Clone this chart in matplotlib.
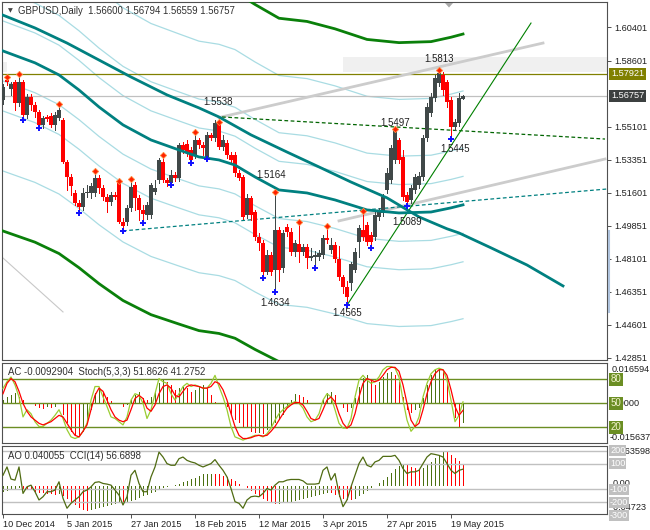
import matplotlib
matplotlib.use('Agg')
import matplotlib.pyplot as plt
import numpy as np
from matplotlib.lines import Line2D
from matplotlib.patches import Rectangle, Polygon

plt.rcParams['font.family'] = ['Liberation Sans', 'DejaVu Sans']

# ---------------- data ----------------
opens = [1.5653,1.5759,1.5711,1.5748,1.5637,1.5748,1.5574,1.5669,1.5627,1.5589,
         1.5521,1.5563,1.5568,1.5521,1.5558,1.5547,1.5324,1.5245,1.5160,1.5107,
         1.5086,1.5160,1.5160,1.5160,1.5240,1.5187,1.5139,1.5113,1.5148,1.5219,
         1.5007,1.5007,1.5081,1.5203,1.5134,1.5070,1.5044,1.5044,1.5165,1.5229,
         1.5324,1.5229,1.5213,1.5255,1.5240,1.5415,1.5420,1.5388,1.5362,1.5441,
         1.5415,1.5351,1.5468,1.5452,1.5531,1.5404,1.5425,1.5362,1.5362,1.5266,
         1.5245,1.5044,1.5134,1.5060,1.4927,1.4895,1.4742,1.4832,1.4752,1.4964,
         1.4763,1.4980,1.4954,1.4847,1.4890,1.4847,1.4874,1.4816,1.4821,1.4821,
         1.4832,1.4922,1.4858,1.4885,1.4810,1.4715,1.4662,1.4683,1.4752,1.4901,
         1.4964,1.4991,1.4938,1.4927,1.5033,1.5054,1.5176,1.5229,1.5335,1.5441,
         1.5351,1.5148,1.5123,1.5176,1.5203,1.5245,1.5452,1.5584,1.5664,1.5743,
         1.5786,1.5748,1.5653,1.5510,1.5531,1.56600]
highs = [1.5738,1.5775,1.5748,1.5759,1.5792,1.5759,1.5685,1.5685,1.5642,1.5600,
         1.5568,1.5574,1.5584,1.5589,1.5632,1.5558,1.5335,1.5261,1.5176,1.5123,
         1.5187,1.5203,1.5213,1.5277,1.5255,1.5203,1.5155,1.5165,1.5165,1.5224,
         1.5028,1.5097,1.5234,1.5219,1.5148,1.5097,1.5113,1.5213,1.5229,1.5346,
         1.5362,1.5240,1.5282,1.5271,1.5425,1.5430,1.5441,1.5404,1.5483,1.5452,
         1.5430,1.5483,1.5478,1.5547,1.5538,1.5468,1.5441,1.5377,1.5377,1.5282,
         1.5255,1.5155,1.5144,1.5070,1.4948,1.4911,1.4858,1.4847,1.5164,1.4980,
         1.4964,1.4996,1.4975,1.4911,1.5007,1.4890,1.4890,1.4869,1.4853,1.4858,
         1.4938,1.4985,1.4922,1.4901,1.4879,1.4726,1.4694,1.4794,1.4869,1.4991,
         1.5065,1.5007,1.4954,1.5060,1.5081,1.5155,1.5293,1.5415,1.5497,1.5452,
         1.5388,1.5165,1.5203,1.5261,1.5271,1.5468,1.5637,1.5690,1.5786,1.5813,
         1.5801,1.5759,1.5669,1.5552,1.5690,1.56794]
lows = [1.5632,1.5733,1.5680,1.5600,1.5621,1.5547,1.5558,1.5600,1.5563,1.5505,
        1.5505,1.5542,1.5510,1.5494,1.5547,1.5319,1.5176,1.5148,1.5097,1.5054,
        1.5070,1.5139,1.5134,1.5144,1.5160,1.5123,1.5060,1.5097,1.5128,1.5001,
        1.4959,1.4991,1.5065,1.5070,1.5017,1.5001,1.5022,1.5028,1.5155,1.5213,
        1.5219,1.5197,1.5203,1.5224,1.5224,1.5372,1.5356,1.5319,1.5346,1.5399,
        1.5362,1.5340,1.5441,1.5436,1.5393,1.5388,1.5346,1.5319,1.5250,1.5229,
        1.5022,1.5028,1.5017,1.4911,1.4858,1.4710,1.4731,1.4726,1.4634,1.4694,
        1.4742,1.4932,1.4832,1.4826,1.4794,1.4832,1.4763,1.4805,1.4763,1.4805,
        1.4816,1.4895,1.4842,1.4794,1.4699,1.4630,1.4565,1.4646,1.4742,1.4821,
        1.4911,1.4885,1.4869,1.4911,1.5017,1.5038,1.5160,1.5213,1.5319,1.5319,
        1.5123,1.5089,1.5107,1.5160,1.5187,1.5229,1.5436,1.5568,1.5648,1.5727,
        1.5680,1.5616,1.5445,1.5494,1.5515,1.56559]
closes = [1.5722,1.5748,1.5738,1.5637,1.5748,1.5574,1.5669,1.5627,1.5589,1.5521,
          1.5558,1.5552,1.5521,1.5574,1.5600,1.5324,1.5245,1.5197,1.5107,1.5086,
          1.5160,1.5165,1.5197,1.5240,1.5187,1.5139,1.5113,1.5148,1.5139,1.5007,
          1.4985,1.5081,1.5192,1.5134,1.5070,1.5049,1.5097,1.5203,1.5187,1.5335,
          1.5229,1.5213,1.5255,1.5240,1.5415,1.5388,1.5372,1.5335,1.5441,1.5415,
          1.5399,1.5468,1.5452,1.5531,1.5404,1.5441,1.5362,1.5335,1.5266,1.5240,
          1.5033,1.5134,1.5044,1.4927,1.4895,1.4742,1.4832,1.4742,1.4964,1.4752,
          1.4948,1.4954,1.4847,1.4895,1.4847,1.4874,1.4816,1.4826,1.4832,1.4842,
          1.4922,1.4911,1.4885,1.4810,1.4715,1.4662,1.4609,1.4784,1.4847,1.4975,
          1.4927,1.4901,1.4901,1.5044,1.5060,1.5139,1.5266,1.5399,1.5494,1.5335,
          1.5139,1.5113,1.5187,1.5245,1.5250,1.5452,1.5616,1.5669,1.5770,1.5796,
          1.5706,1.5642,1.5510,1.5536,1.5664,1.56757]

frac_up = [1, 4, 14, 23, 29, 32, 40, 48, 54, 68, 74, 81, 90, 98, 109]
frac_dn = [5, 9, 19, 30, 35, 42, 47, 51, 65, 68, 78, 86, 92, 101, 112]

peak_text = ['1.5538', '1.5164', '1.4634', '1.4565', '1.5497', '1.5089', '1.5813', '1.5445']
peak_idx = [54, 68, 68, 86, 98, 101, 109, 112]
peak_val = [1.5538, 1.5164, 1.4634, 1.4565, 1.5497, 1.5089, 1.5813, 1.5445]

# moving average (centre of envelopes), read at knots
ma_idx = [0, 8, 14, 19, 24, 30, 37, 44, 49, 54, 58, 63, 69, 76, 83, 91, 99, 107, 112, 115]
ma_val = [1.5913, 1.5850, 1.5786, 1.5706, 1.5616, 1.5521, 1.5441, 1.5388, 1.5351, 1.5335,
          1.5308, 1.5245, 1.5176, 1.5160, 1.5123, 1.5070, 1.5054, 1.5059, 1.5081, 1.5097]
env_cyan_pct = [1, 2, 4]
env_green_pct = [6]
# shifted long moving average, read at knots
sma_idx = [0, 8, 16, 24, 32, 41, 49, 54, 62, 71, 79, 87, 96, 104, 111, 114, 122, 131, 140]
sma_val = [1.6103, 1.6035, 1.5955, 1.5865, 1.5775, 1.5680, 1.5611, 1.5563, 1.5468, 1.5377,
           1.5298, 1.5218, 1.5134, 1.5033, 1.4970, 1.4948, 1.4869, 1.4778, 1.4667]

level_olive = 1.57921
bid = 1.56757
price_ticks = [1.60401, 1.58601, 1.55101, 1.53351, 1.51601, 1.49851, 1.48101, 1.46351, 1.44601, 1.42851]

# objects: (x0, x1), (y0, y1)
gray_tl1 = ([54, 135], [1.5560, 1.5955])
gray_tl2 = ([84, 150.5], [1.5012, 1.5340])
gray_tl3 = ([0, 15], [1.4815, 1.4529])
dash_green = ([54.75, 150.5], [1.5563, 1.5446])
dash_teal = ([30, 151], [1.4959, 1.5181])
green_tl = ([86, 132], [1.4565, 1.6061])
zone1 = ([85, 151], [1.5803, 1.5883])
zone2 = ([-0.25, 1], [1.5801, 1.5855])

stoch_k = [68.7,77,83,73,58,33,42,37,27,21,
           21,25,29,35,42,31,17,8,6,8,
           15,25,54,71,71,58,46,33,31,27,
           23,33,54,62,60,50,31,42,62,81,
           77,75,62,54,62,71,75,71,73,71,
           69,69,75,85,71,58,42,21,8,6,
           4,6,8,10,10,8,12,19,29,37,
           42,46,50,52,50,44,33,27,29,37,
           54,62,58,42,25,19,19,31,58,79,
           85,79,75,77,83,92,96,96,94,83,
           54,29,15,21,33,58,75,87,92,94,
           92,79,54,27,35,51.8626]
stoch_d = [62,75,81,77,65,50,40,33,29,25,
           23,25,27,31,35,33,25,17,10,8,
           15,23,42,60,69,65,54,42,33,29,
           27,29,42,56,60,56,44,40,48,62,
           71,73,69,60,58,65,71,73,72,71,
           69,69,71,77,75,67,54,37,21,10,
           6,6,7,9,10,9,10,15,21,29,
           37,44,48,51,51,48,40,31,29,31,
           42,54,58,52,37,25,19,23,37,58,
           75,81,79,77,79,85,92,95,95,90,
           73,50,29,21,25,42,62,77,87,92,
           92,85,67,46,35,41.2752]
ac = [0.0016,0.0032,0.0039,0.0047,0.0032,0.0016,0.0003,-0.0003,-0.0013,-0.0024,
      -0.0025,-0.0016,-0.0024,-0.0016,-0.0003,-0.0055,-0.0095,-0.0134,-0.0150,-0.0156,
      -0.0134,-0.0079,-0.0032,0.0047,0.0071,0.0055,0.0032,0.0013,0.0003,-0.0005,
      -0.0016,-0.0008,0.0016,0.0039,0.0055,0.0024,0.0016,0.0032,0.0055,0.0095,
      0.0111,0.0103,0.0087,0.0063,0.0071,0.0079,0.0071,0.0055,0.0063,0.0079,
      0.0087,0.0071,0.0039,0.0008,-0.0005,-0.0003,-0.0016,-0.0055,-0.0079,-0.0095,
      -0.0111,-0.0118,-0.0134,-0.0142,-0.0139,-0.0145,-0.0126,-0.0111,-0.0095,-0.0079,
      -0.0055,-0.0024,0.0016,0.0044,0.0039,0.0032,0.0016,0.0003,-0.0005,-0.0001,
      0.0016,0.0047,0.0055,0.0039,-0.0001,-0.0024,-0.0039,-0.0024,0.0024,0.0079,
      0.0118,0.0134,0.0111,0.0087,0.0103,0.0126,0.0142,0.0150,0.0134,0.0103,
      0.0032,-0.0032,-0.0047,-0.0032,-0.0024,0.0024,0.0087,0.0134,0.0158,0.0166,
      0.0150,0.0095,-0.0001,-0.0071,-0.0111,-0.0092904]
ao = [-0.011,-0.010,-0.008,-0.006,-0.005,
      -0.006,-0.008,-0.009,-0.011,-0.013,-0.014,-0.015,-0.016,-0.0165,-0.016,
      -0.019,-0.024,-0.030,-0.036,-0.041,-0.0452,-0.0472,
      -0.046,-0.044,-0.042,-0.040,-0.038,-0.036,-0.034,-0.032,
      -0.033,-0.031,
      -0.029,-0.026,-0.023,-0.020,-0.017,-0.014,-0.011,-0.008,-0.005,-0.003,-0.001,
      0.001,0.003,0.006,0.009,0.012,0.015,0.018,0.021,
      0.022,0.0225,0.022,0.021,
      0.019,0.016,0.012,0.008,0.004,0.000,
      -0.005,-0.010,-0.015,-0.020,-0.025,-0.029,-0.032,-0.035,
      -0.034,-0.033,-0.032,-0.031,-0.029,-0.027,-0.025,-0.023,-0.021,-0.019,-0.017,-0.015,-0.013,
      -0.014,-0.017,-0.021,-0.024,-0.026,-0.027,
      -0.024,-0.020,-0.015,-0.010,-0.005,0.000,0.005,0.011,0.017,0.024,0.031,0.037,0.040,
      0.038,0.035,0.033,0.032,
      0.034,0.039,0.045,0.051,0.058,0.063598,
      0.063,0.058,0.052,0.046,0.040055]
cci = [10,74,-20,-28,74,-131,-80,-67,-118,-182,
       -157,-118,-118,-105,-41,-169,-246,-208,-182,-157,
       -118,-105,-80,-46,-41,-54,-59,-67,-105,-144,
       -221,-157,10,48,-54,-118,-118,-3,74,189,
       151,100,87,87,138,151,125,113,105,87,
       74,87,100,131,87,48,-3,-93,-195,-208,
       -246,-182,-157,-152,-157,-131,-93,-105,-67,-41,
       -41,-28,-23,-23,-23,-34,-59,-59,-59,-54,
       48,74,-28,23,-131,-234,-182,-80,10,100,
       151,87,74,113,125,156,156,156,164,125,
       61,23,36,36,48,100,151,177,171,164,
       151,100,48,23,48,56.6898]
stoch_levels = [80, 50, 20]
cci_levels = [200, 100, -100, -200]

date_idx = [0, 16, 32, 48, 64, 80, 96, 112]
date_lbl = ['10 Dec 2014', '5 Jan 2015', '27 Jan 2015', '18 Feb 2015',
            '12 Mar 2015', '3 Apr 2015', '27 Apr 2015', '19 May 2015']

title_main = 'GBPUSD,Daily  1.56600 1.56794 1.56559 1.56757'
title_p2 = 'AC -0.0092904  Stoch(5,3,3) 51.8626 41.2752'
title_p3 = 'AO 0.040055  CCI(14) 56.6898'

# ---------------- figure ----------------
W, H = 650, 530
fig = plt.figure(figsize=(6.5, 5.3), dpi=100)
fig.patch.set_facecolor('white')

def fx(px):
    return px / W

def fy(py):
    return 1 - py / H

def add_ax(top, bottom):
    a = fig.add_axes([fx(2), fy(bottom), fx(607) - fx(2), fy(top) - fy(bottom)])
    for s in a.spines.values():
        s.set_color('#505050')
        s.set_linewidth(0.8)
    a.set_xlim(-0.25, 151)
    return a

SP = '#505050'
TXT = '#303030'
FS = 6.6
PX = 0.72  # one pixel in points
GREEN_BAR = '#4B7010'

ax = add_ax(2, 360)
ax2 = add_ax(362.7, 443.3)
ax3 = add_ax(446, 514)

idx = np.arange(len(closes))
o = np.array(opens); h = np.array(highs); l = np.array(lows); c = np.array(closes)

# ---- main panel ----
ax.set_ylim(1.42742, 1.61727)
for z in (zone1, zone2):
    ax.add_patch(Rectangle((z[0][0], z[1][0]), z[0][1] - z[0][0], z[1][1] - z[1][0],
                           fc='#F0F0F0', ec='none', zorder=0.5))

ma_i = np.array(ma_idx); ma_v = np.array(ma_val)
for p in env_cyan_pct:
    ax.plot(ma_i, ma_v * (1 + p / 100), color='#A9DCE3', lw=0.9, zorder=1)
    ax.plot(ma_i, ma_v * (1 - p / 100), color='#A9DCE3', lw=0.9, zorder=1)
for p in env_green_pct:
    ax.plot(ma_i, ma_v * (1 + p / 100), color='#0A800A', lw=2.0, zorder=3.5)
    ax.plot(ma_i, ma_v * (1 - p / 100), color='#0A800A', lw=2.0, zorder=3.5)

ax.axhline(level_olive, color='#808000', lw=0.9, zorder=1.5)
ax.axhline(bid, color='#C0C0C0', lw=0.9, zorder=1.5)

ax.plot(*gray_tl1, color='#CCCCCC', lw=2.0, zorder=2)
ax.plot(*gray_tl2, color='#CCCCCC', lw=2.0, zorder=2)
ax.plot(*gray_tl3, color='#C8C8C8', lw=0.8, zorder=2)
ax.plot(*dash_green, color='#006400', lw=0.9, ls=(0, (3, 2)), zorder=2)
ax.plot(*dash_teal, color='#008080', lw=0.9, ls=(0, (3, 2)), zorder=2)
ax.plot(*green_tl, color='#008000', lw=0.8, zorder=2)

up = c >= o
col = np.where(up, '#404848', '#FF0000')
ax.vlines(idx, l, h, colors=col, lw=PX, antialiased=False, zorder=3)
ax.bar(idx, np.maximum(np.abs(c - o), 0.00025), 0.76, np.minimum(o, c),
       color=col, lw=0, antialiased=False, zorder=3)

ax.plot(ma_i, ma_v, color='#008080', lw=2.0, zorder=3.6)
ax.plot(sma_idx, sma_val, color='#008080', lw=2.0, zorder=3.6)

ax.plot(frac_up, h[frac_up], ls='none', marker='D', ms=3.2, color='#FF2000',
        mec='#FF8C40', mew=0.6, zorder=5)
ax.plot(frac_dn, l[frac_dn], ls='none', marker='+', ms=4.5, mew=1.4, color='#1010FF', zorder=5)

peak_off = [(-1, -20), (-4, -17), (0, 11), (0, 8), (0, -6), (0, 16), (0, -11), (4, 10)]
for t, i, v, (dx, dy) in zip(peak_text, peak_idx, peak_val, peak_off):
    ax.annotate(t, (i, v), xytext=(dx, -dy), textcoords='offset pixels',
                ha='center', va='center', fontsize=7, color='#202020', zorder=6)

ax.set_xticks([])
ax.yaxis.tick_right()
ax.set_yticks(price_ticks)
ax.set_yticklabels(['%.5f' % v for v in price_ticks])
ax.tick_params(axis='y', direction='out', length=3, width=0.7, color=SP,
               labelsize=FS, labelcolor='#202020', pad=2)

# boxed price labels
for val, fc in ((level_olive, '#808000'), (bid, '#3C4040')):
    yp = (1.61727 - val) / (1.61727 - 1.42742) * 358 + 2
    fig.text(fx(611), fy(yp), '%.5f' % val, fontsize=FS, color='white', va='center', ha='left',
             bbox=dict(boxstyle='square,pad=0.18', fc=fc, ec='none'), zorder=10)

fig.text(fx(18), fy(10.5), title_main, fontsize=6.9, color=TXT, va='center', ha='left')
fig.text(fx(10), fy(10.5), '\u25BC', fontsize=4.5, color='#404040', va='center', ha='center',
         family='DejaVu Sans')
fig.add_artist(Polygon([[fx(445), fy(3)], [fx(453), fy(3)], [fx(449), fy(7.5)]],
                       closed=True, fc='#A8A8A8', ec='none', transform=fig.transFigure))
fig.add_artist(Line2D([fx(609), fx(609)], [fy(231), fy(312)], color='#B0C4DE', lw=1.5,
                      transform=fig.transFigure))

# ---- panel 2: AC + Stochastic ----
ax2.set_ylim(0, 100.8)
ax2.set_xticks([]); ax2.set_yticks([])
for lv in stoch_levels:
    ax2.axhline(lv, color='#6B8E23', lw=1.0, zorder=1)
ax2b = ax2.twinx()
ax2b.set_ylim(-0.01896, 0.01924)
ax2b.set_yticks([])
for s in ax2b.spines.values():
    s.set_visible(False)
acv = np.array(ac)
acc = [GREEN_BAR if (k == 0 or acv[k] > acv[k - 1]) else '#FF0000' for k in range(len(acv))]
ax2b.bar(idx, acv, 0.25, 0, color=acc, lw=0, antialiased=False, zorder=2)
ax2.set_zorder(ax2b.get_zorder() + 1)
ax2.patch.set_visible(False)
ax2.plot(idx, stoch_k, color='#9ACD32', lw=0.9, zorder=3)
ax2.plot(idx, stoch_d, color='#FF0000', lw=0.9, zorder=3)
fig.text(fx(8), fy(372), title_p2, fontsize=6.9, color=TXT, va='center', ha='left')

fig.text(fx(612), fy(369), '0.016594', fontsize=FS, color='#202020', va='center')
fig.text(fx(612), fy(403.3), '0.0000', fontsize=FS, color='#202020', va='center')
fig.text(fx(610), fy(437), '-0.015637', fontsize=FS, color='#202020', va='center')
for lv in stoch_levels:
    yp = 443.3 - lv * 0.8
    fig.text(fx(610.5), fy(yp), str(lv), fontsize=FS + 0.4, color='#F4F4D0', va='center',
             bbox=dict(boxstyle='square,pad=0.15', fc='#6B8E23', ec='none'), zorder=10)

# ---- panel 3: AO + CCI ----
ax3.set_ylim(-290.7, 236.4)
ax3.set_yticks([])
for lv in cci_levels:
    ax3.axhline(lv, color='#C0C0C0', lw=1.0, zorder=1)
ax3b = ax3.twinx()
ax3b.set_ylim(-0.0530, 0.0743)
ax3b.set_yticks([])
for s in ax3b.spines.values():
    s.set_visible(False)
aov = np.array(ao)
aoc = [GREEN_BAR if (k == 0 or aov[k] > aov[k - 1]) else '#FF0000' for k in range(len(aov))]
ax3b.bar(idx, aov, 0.25, 0, color=aoc, lw=0, antialiased=False, zorder=2)
ax3.set_zorder(ax3b.get_zorder() + 1)
ax3.patch.set_visible(False)
ax3.plot(idx, cci, color='#4F6B12', lw=0.9, zorder=3)
fig.text(fx(8), fy(456), title_p3, fontsize=6.9, color=TXT, va='center', ha='left')

fig.text(fx(613), fy(452), '0.063598', fontsize=FS, color='#202020', va='center')
fig.text(fx(613), fy(483), '0.00', fontsize=FS, color='#202020', va='center')
fig.text(fx(611), fy(507.5), '-0.04723', fontsize=FS, color='#202020', va='center')
for lv in cci_levels + [-300]:
    yp = 476.5 - lv * 0.129
    fig.text(fx(610), fy(yp), str(lv), fontsize=FS, color='white', va='center',
             bbox=dict(boxstyle='square,pad=0.12', fc='#C0C0C0', ec='none'), zorder=10)

ax3.set_xticks(date_idx)
ax3.set_xticklabels(date_lbl)
for lab in ax3.get_xticklabels():
    lab.set_ha('left')
ax3.tick_params(axis='x', direction='out', length=3, width=0.7, color=SP,
                labelsize=FS, labelcolor='#202020', pad=1.5)

fig.savefig('out.png', dpi=100, facecolor='white')
